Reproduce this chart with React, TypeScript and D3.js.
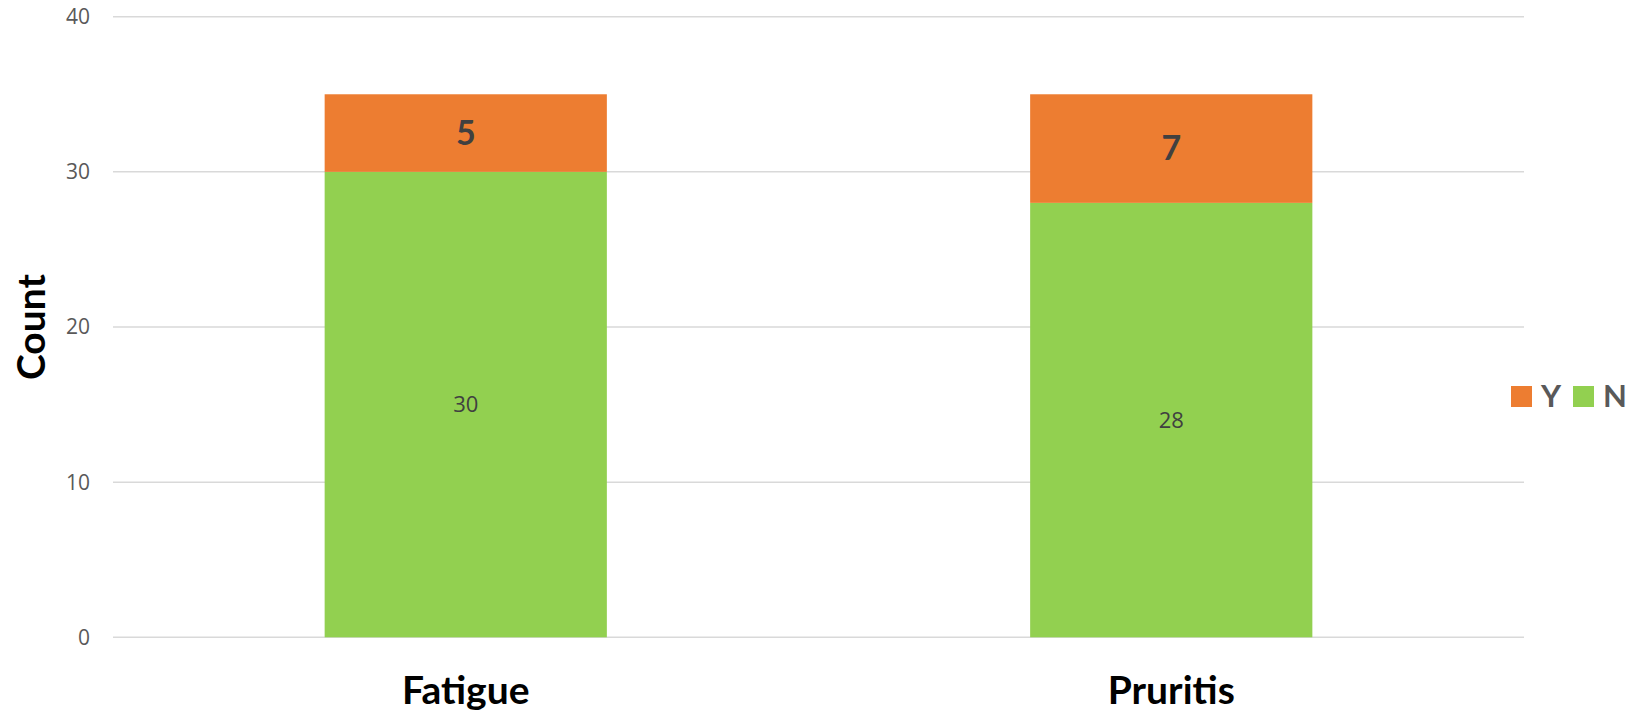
import React, { useEffect, useRef } from 'react';
import * as d3 from 'd3';

const categories = ['Fatigue', 'Pruritis'];
const seriesN = [30, 28];
const seriesY = [5, 7];
const yTicks = [0, 10, 20, 30, 40];
const legendItems = [
  { key: 'Y', color: '#ed7d31' },
  { key: 'N', color: '#92d050' },
];

const width = 1630;
const height = 713;
const margin = { top: 16.7, right: 106, bottom: 75.7, left: 113 };

const App: React.FC = () => {
  const svgRef = useRef<SVGSVGElement>(null);

  useEffect(() => {
    if (!svgRef.current) return;
    const svg = d3.select(svgRef.current);
    svg.selectAll('*').remove();

    const x = d3.scaleBand()
      .domain(categories)
      .range([margin.left, width - margin.right])
      .paddingInner(0.6)
      .paddingOuter(0.3);

    const y = d3.scaleLinear()
      .domain([0, 40])
      .range([height - margin.bottom, margin.top]);

    // gridlines
    svg.append('g')
      .selectAll('line')
      .data(yTicks)
      .join('line')
      .attr('x1', margin.left)
      .attr('x2', width - margin.right)
      .attr('y1', d => y(d))
      .attr('y2', d => y(d))
      .attr('stroke', '#d9d9d9')
      .attr('stroke-width', 1.5);

    // tick labels
    svg.append('g')
      .selectAll('text')
      .data(yTicks)
      .join('text')
      .attr('x', 90)
      .attr('y', d => y(d))
      .attr('dy', '0.35em')
      .attr('text-anchor', 'end')
      .attr('font-family', '"Open Sans", sans-serif')
      .attr('font-size', 21)
      .attr('fill', '#595959')
      .text(d => d);

    // stacked bars
    const rows = categories.map((c, i) => ({ cat: c, N: seriesN[i], Y: seriesY[i] }));
    const stack = d3.stack<any>().keys(['N', 'Y'])(rows);
    const colors: Record<string, string> = { N: '#92d050', Y: '#ed7d31' };

    stack.forEach(layer => {
      const g = svg.append('g');
      g.selectAll('rect')
        .data(layer)
        .join('rect')
        .attr('x', d => x(d.data.cat)!)
        .attr('width', x.bandwidth())
        .attr('y', d => y(d[1]))
        .attr('height', d => y(d[0]) - y(d[1]))
        .attr('fill', colors[layer.key]);

      const isY = layer.key === 'Y';
      g.selectAll('text')
        .data(layer)
        .join('text')
        .attr('x', d => x(d.data.cat)! + x.bandwidth() / 2)
        .attr('y', d => (y(d[0]) + y(d[1])) / 2)
        .attr('dy', '0.35em')
        .attr('text-anchor', 'middle')
        .attr('font-family', isY ? 'Lato, sans-serif' : '"Open Sans", sans-serif')
        .attr('font-weight', isY ? 'bold' : 'normal')
        .attr('font-size', isY ? 34 : 22)
        .attr('fill', '#404040')
        .text(d => d[1] - d[0]);
    });

    // category labels
    svg.append('g')
      .selectAll('text')
      .data(categories)
      .join('text')
      .attr('x', d => x(d)! + x.bandwidth() / 2)
      .attr('y', 704)
      .attr('text-anchor', 'middle')
      .attr('font-family', 'Lato, sans-serif')
      .attr('font-weight', 'bold')
      .attr('font-size', 39)
      .attr('fill', '#000')
      .text(d => d);

    // y axis title
    svg.append('text')
      .attr('transform', `translate(45, ${(y(0) + y(40)) / 2}) rotate(-90)`)
      .attr('text-anchor', 'middle')
      .attr('font-family', 'Lato, sans-serif')
      .attr('font-weight', 'bold')
      .attr('font-size', 39)
      .attr('fill', '#000')
      .text('Count');

    // legend
    const legendX = [1511, 1573];
    legendItems.forEach((item, i) => {
      const g = svg.append('g').attr('transform', `translate(${legendX[i]}, 386)`);
      g.append('rect').attr('width', 21).attr('height', 21).attr('fill', item.color);
      g.append('text')
        .attr('x', 30)
        .attr('y', 21)
        .attr('font-family', 'Lato, sans-serif')
        .attr('font-weight', 'bold')
        .attr('font-size', 31)
        .attr('fill', '#595959')
        .text(item.key);
    });
  }, []);

  return (
    <div style={{ position: 'absolute', left: 0, top: 0, background: '#fff' }}>
      <svg ref={svgRef} width={width} height={height} style={{ display: 'block' }} />
    </div>
  );
};

export default App;
